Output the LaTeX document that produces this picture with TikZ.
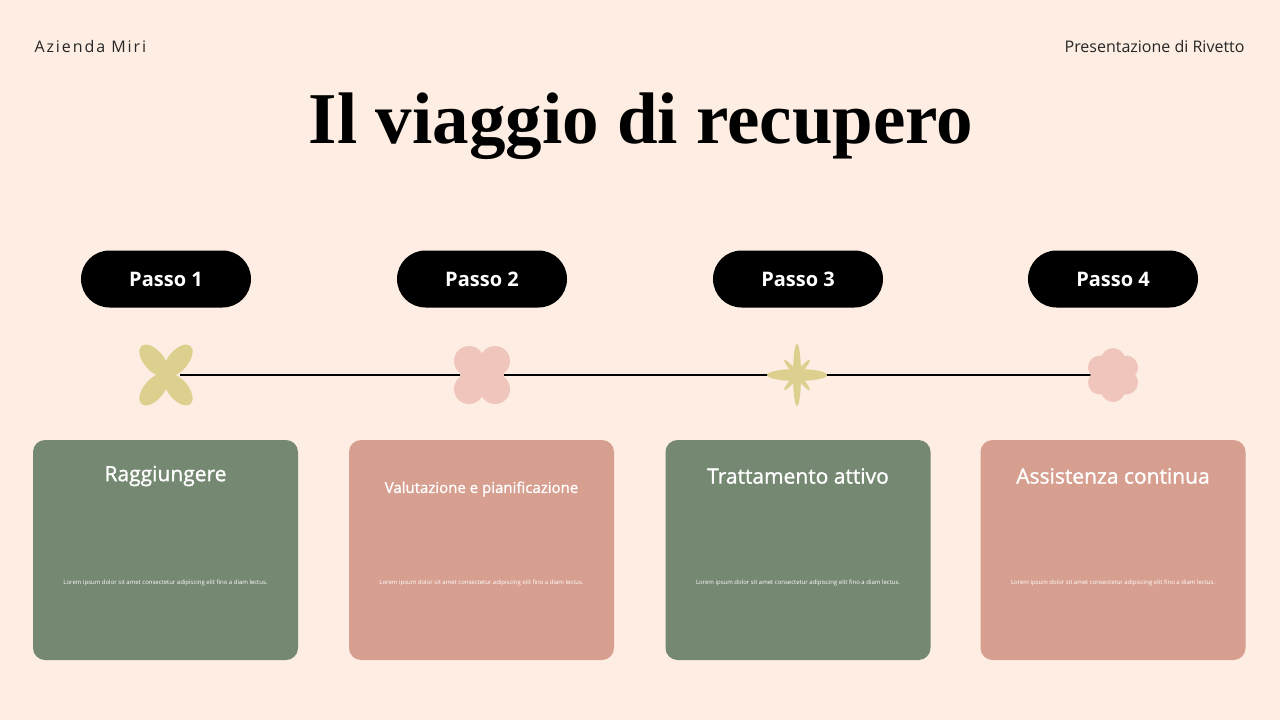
\documentclass[tikz,border=0pt]{standalone}
\usepackage{fontspec}
\setmainfont{Open Sans}
\newfontfamily\titlefont{Liberation Serif}
\begin{document}
\begin{tikzpicture}[x=1pt,y=-1pt]
\definecolor{bg}{HTML}{FDEDE2}
\definecolor{cgreen}{HTML}{748872}
\definecolor{cpink}{HTML}{D79F90}
\definecolor{yel}{HTML}{DDD08F}
\definecolor{pk}{HTML}{F0C6BC}
\tikzset{
  pill/.style={fill=black,rounded corners=28.5pt,minimum width=170pt,minimum height=57pt,text=white,font=\fontsize{20}{24}\selectfont\bfseries,inner sep=0pt},
  card/.style={rounded corners=12pt,minimum width=265pt,minimum height=220pt,inner sep=0pt},
  ctitle/.style={text=white,font=\fontsize{21}{25}\selectfont\addfontfeature{FakeBold=1.2}},
  lorem/.style={text=white,font=\fontsize{6}{7}\selectfont},
  hdr/.style={font=\fontsize{16}{19}\selectfont,text=black!85}
}
\fill[bg] (0,0) rectangle (1280,720);
\useasboundingbox (0,0) rectangle (1280,720);
\node[hdr,anchor=west] (h1) at (31,46) {\addfontfeature{LetterSpace=12}Azienda Miri};
\node[hdr,anchor=east] (h2) at (1248,46) {Presentazione di Rivetto};
\node (title) at (641,126) {\titlefont\fontsize{73}{80}\selectfont\bfseries Il viaggio di recupero};
% line
\coordinate (l1) at (180,375); \coordinate (l2) at (1095,375);
\draw[line width=1.5pt] (l1) -- (l2);
% shape 1
\begin{scope}[shift={(166,375)}]
\foreach \r in {40,-40,140,-140} \fill[yel,rotate=\r] (0,-19) ellipse (10 and 19);
\end{scope}
% shape 2
\begin{scope}[shift={(482,375)}]
\foreach \a/\b in {-13/-14,13/-14,-13/14,13/14} \fill[pk] (\a,\b) circle (15);
\fill[pk] (-22,-14) rectangle (22,14);
\end{scope}
% shape 3
\begin{scope}[shift={(797,375)}]
\fill[yel] (0,0) ellipse (4 and 31);
\fill[yel] (0,0) ellipse (30 and 6);
\fill[yel,rotate=40] (0,0) ellipse (2.5 and 20);
\fill[yel,rotate=-40] (0,0) ellipse (2.5 and 20);
\end{scope}
% shape 4
\begin{scope}[shift={(1113,375)}]
\foreach \k in {0,...,5} \fill[pk] ({90+60*\k}:15) circle (12);
\fill[pk] (0,0) circle (16);
\end{scope}
% pills
\node[pill] (p1) at (166,279) {Passo 1};
\node[pill] (p2) at (482,279) {Passo 2};
\node[pill] (p3) at (798,279) {Passo 3};
\node[pill] (p4) at (1113,279) {Passo 4};
% cards
\node[card,fill=cgreen] (c1) at (165.5,550) {};
\node[card,fill=cpink] (c2) at (481.5,550) {};
\node[card,fill=cgreen] (c3) at (798,550) {};
\node[card,fill=cpink] (c4) at (1113,550) {};
\node[ctitle] (t1) at (165.5,476) {Raggiungere};
\node[text=white,font=\fontsize{15}{18}\selectfont\addfontfeature{FakeBold=1.2}] (t2) at (481.5,489) {Valutazione e pianificazione};
\node[ctitle] (t3) at (798,476) {Trattamento attivo};
\node[ctitle] (t4) at (1113,476) {Assistenza continua};
\foreach \x/\n in {165.5/1,481.5/2,798/3,1113/4}
  \node[lorem] (lo\n) at (\x,583) {Lorem ipsum dolor sit amet consectetur adipiscing elit fino a diam lectus.};
\end{tikzpicture}
\end{document}
